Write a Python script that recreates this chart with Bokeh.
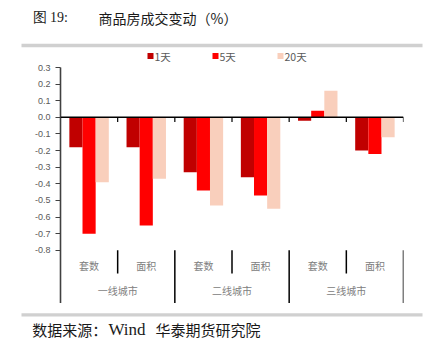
from bokeh.plotting import figure
from bokeh.layouts import column
from bokeh.models import (FactorRange, Range1d, FixedTicker, NumeralTickFormatter,
                          Span, ColumnDataSource)
from bokeh.transform import dodge
from bokeh.core.properties import value
from bokeh.embed import file_html
from bokeh.resources import INLINE

# ---------------- data ----------------
cities = ["一线城市", "二线城市", "三线城市"]
measures = ["套数", "面积"]
series_names = ["1天", "5天", "20天"]
chg_1d = [-0.18, -0.18, -0.33, -0.36, -0.02, -0.20]
chg_5d = [-0.70, -0.65, -0.44, -0.47, 0.04, -0.22]
chg_20d = [-0.39, -0.37, -0.53, -0.55, 0.16, -0.12]
y_ticks = [0.3, 0.2, 0.1, 0.0, -0.1, -0.2, -0.3, -0.4, -0.5, -0.6, -0.7, -0.8]
title_prefix = "图 19:"
title_text = "商品房成交变动（%）"
source_parts = ["数据来源：", "Wind", "华泰期货研究院"]

colors = ["#C00000", "#FF0000", "#F9CFBC"]
W = 430


def bare(h):
    f = figure(width=W, height=h, x_range=Range1d(0, W), y_range=Range1d(h, 0),
               output_backend="svg", toolbar_location=None,
               x_axis_location=None, y_axis_location=None,
               min_border=0, min_border_left=0, min_border_right=0,
               min_border_top=0, min_border_bottom=0, frame_align=False)
    f.xgrid.visible = False
    f.ygrid.visible = False
    f.outline_line_color = None
    f.background_fill_color = "white"
    f.border_fill_color = "white"
    return f


# ---------------- header: title, rule, legend ----------------
TOP_H = 62
top = bare(TOP_H)
top.text(x=[32], y=[17], text=[title_prefix], text_baseline="middle",
         text_font=value("Liberation Serif"), text_font_size="14px", text_color="#1a1a1a")
top.text(x=[98], y=[17], text=[title_text], text_baseline="middle",
         text_font=value("Noto Sans CJK SC"), text_font_size="14px", text_color="#1a1a1a")
top.quad(left=[21], right=[422], top=[43.3], bottom=[46.7], fill_color="#D0D0D0",
         line_color=None)
# legend (one square + label per series)
k = len(series_names)
leg_x = [147 + 65 * i for i in range(k)]
top.quad(left=leg_x, right=[x + 6 for x in leg_x], top=[52.5] * k, bottom=[58.5] * k,
         fill_color=colors, line_color=None)
top.text(x=[x + 7 for x in leg_x], y=[55.5] * k, text=series_names, text_baseline="middle",
         text_font=value("Noto Sans CJK SC"), text_font_size="10.5px", text_color="#595959")

# ---------------- main chart ----------------
factors = [(c, m) for c in cities for m in measures]
src = ColumnDataSource(dict(x=factors, d1=chg_1d, d5=chg_5d, d20=chg_20d,
                            sub=[f[1] for f in factors]))

p = figure(width=W, height=241,
           x_range=FactorRange(*factors, range_padding=0, group_padding=0,
                               factor_padding=0, subgroup_padding=0),
           y_range=Range1d(-1.12, 0.3),
           output_backend="svg", toolbar_location=None, x_axis_location=None,
           min_border_left=60, min_border_right=27, min_border_top=5,
           min_border_bottom=0, frame_align=False)
p.xgrid.visible = False
p.ygrid.visible = False
p.outline_line_color = None
p.background_fill_color = "white"
p.border_fill_color = "white"

ya = p.yaxis[0]
ya.ticker = FixedTicker(ticks=y_ticks)
ya.formatter = NumeralTickFormatter(format="0.0")
ya.axis_line_color = "#404040"
ya.axis_line_width = 1.6
ya.major_tick_line_color = "#404040"
ya.major_tick_line_width = 1.2
ya.major_tick_in = 0
ya.major_tick_out = 5
ya.minor_tick_line_color = None
ya.major_label_standoff = 5
ya.major_label_text_font = "Liberation Sans"
ya.major_label_text_font_size = "9px"
ya.major_label_text_color = "#595959"

bw = 0.23
for col, off, c in zip(["d1", "d5", "d20"], [-bw, 0.0, bw], colors):
    p.vbar(x=dodge("x", off, range=p.x_range), top=col, bottom=0, width=bw,
           source=src, fill_color=c, line_color=None)

p.add_layout(Span(location=0, dimension="width", line_color="#000000", line_width=1.5))
n = len(factors)
bounds = list(range(1, n + 1))
p.segment(x0=bounds, y0=[0] * n, x1=bounds, y1=[-0.028] * n,
          line_color="#000000", line_width=1.2)

sub_b = [b for b in bounds if b % len(measures) != 0]
grp_b = [b for b in bounds if b % len(measures) == 0]
p.segment(x0=sub_b, y0=[-0.8] * len(sub_b), x1=sub_b, y1=[-0.94] * len(sub_b),
          line_color="#000000", line_width=1.5)
p.segment(x0=grp_b, y0=[-0.8] * len(grp_b), x1=grp_b, y1=[-1.12] * len(grp_b),
          line_color="#000000", line_width=1.5)

p.text(x="x", y=-0.89, text="sub", source=src, text_align="center",
       text_baseline="middle", text_font=value("Noto Sans CJK SC"),
       text_font_size="10px", text_color="#808080")
p.text(x=cities, y=[-1.04] * len(cities), text=cities, text_align="center",
       text_baseline="middle", text_font=value("Noto Sans CJK SC"),
       text_font_size="10px", text_color="#808080")

# ---------------- footer: rule, source ----------------
BOT_H = 352 - 62 - 241
bot = bare(BOT_H)
bot.quad(left=[21], right=[422], top=[9.7], bottom=[13.0], fill_color="#D0D0D0",
         line_color=None)
for xs, txt, fnt, fs in zip([31.7, 108, 155], source_parts,
                            ["Noto Sans CJK SC", "Liberation Serif", "Noto Sans CJK SC"],
                            ["15px", "17px", "15px"]):
    bot.text(x=[xs], y=[26], text=[txt], text_baseline="middle", text_font=value(fnt),
             text_font_size=fs, text_color="#1a1a1a")

layout = column(top, p, bot, spacing=0)
open("out.html", "w").write(file_html(layout, INLINE))
